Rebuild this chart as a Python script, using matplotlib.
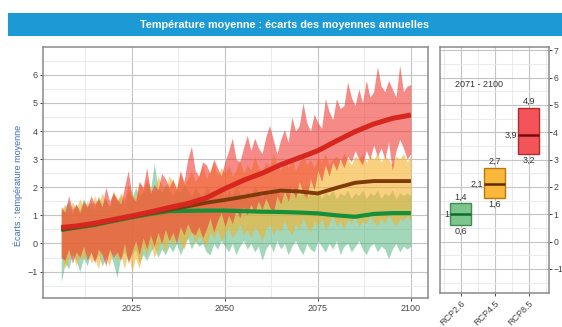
import numpy as np
import matplotlib
matplotlib.use("Agg")
import matplotlib.pyplot as plt
from matplotlib.patches import Rectangle
from matplotlib.ticker import MultipleLocator

plt.rcParams['font.family'] = ['Liberation Sans', 'DejaVu Sans']

# ---- annual spread of the model ensemble (min / max), 2006-2100 ----
years = list(range(2006, 2101))

rcp85_hi = [1.3, 1.1, 1.7, 1.2, 1.4, 1.1, 1.5, 1.3, 1.7, 1.4,
            1.6, 1.3, 2.0, 1.5, 1.8, 1.6, 1.4, 2.0, 2.6, 1.7,
            1.5, 2.2, 2.0, 2.7, 1.8, 2.1, 1.9, 2.5, 2.3, 2.0,
            2.3, 1.9, 2.6, 2.2, 3.0, 3.45, 2.6, 2.4, 2.9, 2.8,
            2.5, 3.0, 2.7, 2.4, 2.9, 3.3, 3.75, 3.0, 2.9, 3.4,
            3.85, 3.3, 3.75, 3.4, 3.2, 3.8, 4.2, 3.7, 3.2, 3.7,
            4.05, 3.6, 4.5, 4.0, 4.2, 5.0, 4.3, 4.0, 4.6, 4.3,
            4.1, 5.15, 4.7, 4.4, 5.15, 4.8, 4.9, 5.75, 5.2, 4.9,
            5.5, 5.0, 5.8, 5.2, 5.4, 6.3, 5.6, 5.4, 5.8, 5.5,
            5.2, 6.35, 5.4, 5.6, 5.65]
rcp85_lo = [-0.5, -0.6, -0.2, -0.7, -0.3, -0.5, -0.1, -0.6, -0.3, -0.7,
            -0.2, -0.4, -0.8, -0.2, -0.5, -0.3, -0.6, 0.0, -0.7, -0.3,
            0.1, -0.4, 0.2, -0.2, 0.3, -0.1, 0.4, 0.0, 0.5, 0.1,
            0.4, 0.0, 0.6, 0.3, 0.7, 0.4, 0.3, 0.6, 0.2, 0.5,
            0.9, 0.4, 0.8, 1.1, 0.6, 1.0, 0.7, 1.2, 0.9, 1.3,
            1.0, 1.4, 1.1, 1.5, 1.2, 1.6, 1.3, 1.1, 1.7, 1.4,
            1.9, 1.5, 2.0, 1.6, 2.2, 1.8, 1.6, 2.3, 1.9, 2.6,
            2.2, 2.8, 2.4, 2.9, 2.6, 3.0, 2.7, 3.1, 2.9, 3.3,
            3.0, 2.8, 3.3, 3.0, 3.5, 3.1, 3.4, 3.0, 3.6, 2.6,
            3.3, 3.7, 3.4, 3.0, 3.2]

rcp45_hi = [1.2, 1.4, 1.0, 1.5, 1.2, 1.6, 1.3, 1.5, 1.2, 1.7,
            1.4, 1.8, 1.5, 1.3, 1.9, 1.5, 1.8, 1.6, 2.1, 1.8,
            1.6, 2.2, 1.9, 2.3, 2.0, 1.8, 2.4, 2.1, 1.9, 2.4,
            2.2, 2.0, 2.5, 2.1, 2.3, 2.6, 2.2, 2.4, 2.8, 2.3,
            2.6, 2.9, 2.4, 2.7, 2.5, 2.8, 2.4, 2.6, 3.0, 2.5,
            2.8, 2.6, 3.1, 2.7, 2.5, 2.9, 2.7, 3.2, 2.8, 2.6,
            3.0, 2.7, 3.1, 2.6, 2.9, 3.2, 2.8, 3.0, 2.7, 3.1,
            2.9, 3.2, 2.8, 3.0, 3.1, 2.9, 3.2, 3.0, 2.8, 3.1,
            3.0, 3.2, 2.9, 3.1, 3.0, 3.2, 2.9, 3.1, 3.0, 2.8,
            3.1, 3.0, 3.2, 2.9, 3.1]
rcp45_lo = [-0.4, -0.9, -0.5, -0.3, -0.8, -0.4, -0.6, -0.2, -0.7, -0.5,
            -0.9, -0.3, -0.5, -0.8, -0.2, -0.6, -0.4, -0.9, -0.3, -1.0,
            -0.5, -0.9, -0.1, -0.4, 0.0, -0.5, -0.2, 0.1, -0.3, 0.2,
            -0.1, 0.3, 0.0, -0.2, 0.2, 0.4, 0.0, 0.3, 0.1, -0.1,
            0.4, 0.2, 0.5, 0.1, 0.3, 0.6, 0.2, 0.4, 0.7, 0.3,
            0.5, 0.2, 0.6, 0.4, 0.1, 0.5, 0.7, 0.3, 0.6, 0.4,
            0.8, 0.5, 0.3, 0.7, 0.5, 0.9, 0.6, 0.4, 0.8, 0.6,
            0.9, 0.5, 0.7, 1.0, 0.6, 0.8, 0.5, 0.9, 0.7, 1.0,
            0.6, 0.8, 0.7, 1.0, 0.8, 0.6, 0.9, 0.7, 1.0, 0.8,
            0.6, 0.9, 0.8, 1.0, 0.8]

rcp26_hi = [1.1, 1.3, 1.5, 1.0, 1.4, 1.2, 1.6, 1.3, 1.5, 1.2,
            1.7, 1.4, 1.6, 1.3, 1.8, 1.5, 1.7, 1.4, 1.9, 1.6,
            2.0, 1.7, 1.8, 2.2, 1.9, 2.85, 2.0, 1.8, 2.1, 1.9,
            1.7, 2.0, 1.8, 2.1, 1.9, 1.7, 2.0, 1.8, 1.6, 2.1,
            1.8, 1.9, 1.7, 2.0, 1.6, 1.9, 1.7, 2.0, 1.8, 1.6,
            1.9, 1.7, 2.1, 1.8, 1.6, 1.9, 1.7, 2.0, 1.8, 1.6,
            1.9, 1.7, 1.8, 2.0, 1.7, 1.9, 1.6, 1.8, 1.7, 1.9,
            1.6, 1.8, 1.7, 1.9, 1.6, 1.8, 1.7, 1.9, 1.6, 1.8,
            1.7, 1.9, 1.6, 1.8, 1.7, 1.9, 1.6, 1.8, 1.7, 1.9,
            1.6, 1.8, 1.7, 1.8, 1.7]
rcp26_lo = [-1.4, -0.7, -0.9, -0.4, -0.6, -1.0, -0.5, -0.8, -0.3, -0.6,
            -0.4, -0.8, -0.5, -0.3, -0.7, -1.2, -0.5, -0.3, -0.6, -0.4,
            -0.2, -0.7, -0.4, -0.6, -0.3, -0.1, -0.5, -0.2, -0.4, -0.1,
            -0.3, 0.0, -0.4, -0.1, 0.2, -0.2, 0.1, -0.1, 0.0, -0.3,
            -0.4, 0.0, -0.2, 0.1, -0.1, -0.3, 0.0, -0.4, -0.1, 0.1,
            -0.2, 0.0, -0.3, -0.1, -0.6, -0.2, 0.0, -0.3, 0.1, -0.2,
            0.0, -0.4, -0.1, 0.1, -0.2, -0.4, 0.0, -0.2, -0.3, 0.1,
            -0.1, -0.3, 0.0, -0.2, 0.1, -0.4, -0.1, 0.0, -0.3, -0.1,
            0.1, -0.2, -0.4, -0.1, 0.0, -0.3, -0.1, -0.2, -0.55, -0.2,
            0.0, -0.3, -0.1, -0.2, -0.1]

# ---- ensemble mean (smoothed) ----
mean_years = [2006, 2010, 2015, 2020, 2025, 2030, 2035, 2040, 2045, 2050,
              2055, 2060, 2065, 2070, 2075, 2080, 2085, 2090, 2095, 2100]
rcp85_mean = [0.57, 0.62, 0.72, 0.85, 0.98, 1.12, 1.28, 1.42, 1.62, 1.95,
              2.25, 2.5, 2.8, 3.05, 3.3, 3.65, 3.98, 4.25, 4.45, 4.57]
rcp45_mean = [0.5, 0.58, 0.68, 0.82, 0.95, 1.08, 1.2, 1.32, 1.45, 1.55,
              1.66, 1.78, 1.88, 1.85, 1.78, 1.98, 2.16, 2.22, 2.22, 2.22]
rcp26_mean = [0.48, 0.56, 0.66, 0.8, 0.93, 1.05, 1.15, 1.16, 1.17, 1.17,
              1.15, 1.13, 1.12, 1.1, 1.07, 1.0, 0.95, 1.05, 1.08, 1.08]

# ---- 2071-2100 summary per scenario ----
scenarios = ["RCP2.6", "RCP4.5", "RCP8.5"]
box_low = [0.6, 1.6, 3.2]
box_med = [1.0, 2.1, 3.9]
box_high = [1.4, 2.7, 4.9]
box_labels_low = ["0,6", "1,6", "3,2"]
box_labels_med = ["1", "2,1", "3,9"]
box_labels_high = ["1,4", "2,7", "4,9"]

# styles
fill_cols = {"RCP2.6": "#4db37a", "RCP4.5": "#f6b12a", "RCP8.5": "#ef3c36"}
fill_alpha = {"RCP2.6": 0.52, "RCP4.5": 0.6, "RCP8.5": 0.6}
line_cols = {"RCP2.6": "#148f3a", "RCP4.5": "#7f3a0c", "RCP8.5": "#d7261e"}
box_face = ["#7cc68c", "#f8b83c", "#f2545a"]
box_edge = ["#3f8c55", "#b8780f", "#b52a2a"]
box_medc = ["#0f6a2e", "#5a2c04", "#7a0a0a"]

W, H = 562, 327
fig = plt.figure(figsize=(W / 100, H / 100), dpi=100)

grid_major = "#c4c4c4"
grid_minor = "#e8e8e8"
frame_col = "#8a8a8a"
tick_col = "#444444"

def px_rect(left, top, right, bottom):
    return [left / W, 1 - bottom / H, (right - left) / W, (bottom - top) / H]

# title band
band = fig.add_axes(px_rect(8, 13, 562, 36))
band.set_axis_off()
band.add_patch(Rectangle((0, 0), 1, 1, transform=band.transAxes,
                         facecolor="#1b9ad6", edgecolor="none"))
fig.text(285 / W, 1 - 24.5 / H,
         "Température moyenne : écarts des moyennes annuelles",
         color="white", fontsize=7.8, fontweight="bold",
         ha="center", va="center")

def style_axes(ax):
    ax.set_facecolor("white")
    for s in ax.spines.values():
        s.set_color(frame_col)
        s.set_linewidth(1.1)
    ax.grid(True, which="major", color=grid_major, linewidth=0.8)
    ax.grid(True, which="minor", color=grid_minor, linewidth=0.6)
    ax.set_axisbelow(True)
    ax.tick_params(which="major", length=2.5, width=0.7, color=tick_col,
                   labelsize=6.5, labelcolor=tick_col, pad=1.5)
    ax.tick_params(which="minor", length=0)

# ---- main panel: yearly spread and ensemble mean ----
ax = fig.add_axes(px_rect(43, 47, 428, 298))
style_axes(ax)
yrs = np.array(years)
for name, lo, hi in [("RCP2.6", rcp26_lo, rcp26_hi),
                     ("RCP4.5", rcp45_lo, rcp45_hi),
                     ("RCP8.5", rcp85_lo, rcp85_hi)]:
    ax.fill_between(yrs, lo, hi, color=fill_cols[name],
                    alpha=fill_alpha[name], linewidth=0)
ax.plot(mean_years, rcp26_mean, color=line_cols["RCP2.6"], lw=3.0,
        solid_capstyle="butt")
ax.plot(mean_years, rcp45_mean, color=line_cols["RCP4.5"], lw=2.8,
        solid_capstyle="butt")
ax.plot(mean_years, rcp85_mean, color=line_cols["RCP8.5"], lw=3.6,
        solid_capstyle="butt")
ax.set_xlim(2001.1, 2104.6)
ax.set_ylim(-1.94, 6.99)
ax.xaxis.set_major_locator(MultipleLocator(25))
ax.xaxis.set_minor_locator(MultipleLocator(12.5))
ax.yaxis.set_major_locator(MultipleLocator(1))
ax.yaxis.set_minor_locator(MultipleLocator(0.5))
ax.set_xticks([2025, 2050, 2075, 2100])
ax.set_ylabel("Écarts : température moyenne", color="#3a6fb5",
              fontsize=6.5, labelpad=3)
ax.yaxis.set_label_coords(-20 / 385, 0.45)

# ---- right panel: 2071-2100 boxes ----
bx = fig.add_axes(px_rect(440.5, 47, 549, 293))
style_axes(bx)
pos = np.arange(1, len(scenarios) + 1)
bw = 0.62
heights = [h - l for h, l in zip(box_high, box_low)]
bx.bar(pos, heights, bottom=box_low, width=bw, color=box_face,
       edgecolor=box_edge, linewidth=1.0, zorder=3)
for i, p in enumerate(pos):
    bx.plot([p - bw / 2, p + bw / 2], [box_med[i], box_med[i]],
            color=box_medc[i], lw=1.8, zorder=4, solid_capstyle="butt")
    bx.text(p, box_high[i] + 0.06, box_labels_high[i], ha="center",
            va="bottom", fontsize=6.5, color="#333333", zorder=5)
    bx.text(p, box_low[i] - 0.06, box_labels_low[i], ha="center",
            va="top", fontsize=6.5, color="#333333", zorder=5)
    bx.text(p - bw / 2 - 0.03, box_med[i], box_labels_med[i], ha="right",
            va="center", fontsize=6.5, color="#333333", zorder=5)
bx.text(1.53, 5.75, "2071 - 2100", ha="center", va="center",
        fontsize=6.5, color="#333333")
bx.set_xlim(0.4, 3.6)
bx.set_ylim(-1.88, 7.12)
bx.xaxis.set_major_locator(MultipleLocator(1))
bx.xaxis.set_minor_locator(MultipleLocator(0.5))
bx.yaxis.set_major_locator(MultipleLocator(1))
bx.yaxis.set_minor_locator(MultipleLocator(0.5))
bx.set_xticks(pos)
bx.set_xticklabels(scenarios, rotation=45, ha="right",
                   rotation_mode="anchor")
bx.yaxis.tick_right()
bx.tick_params(axis="y", which="major", left=False, right=True,
               length=2, pad=1, labelsize=6.2)

fig.savefig("out.png", dpi=100, facecolor="white")
